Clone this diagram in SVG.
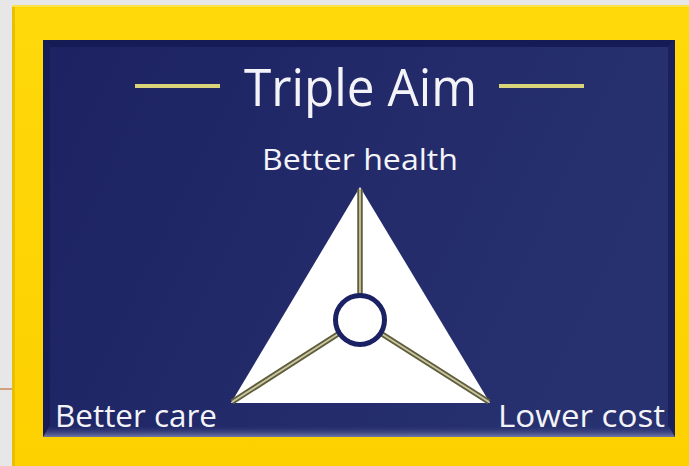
<svg xmlns="http://www.w3.org/2000/svg" width="689" height="466" viewBox="0 0 689 466">
  <defs>
    <linearGradient id="panelGrad" x1="0" y1="0" x2="1" y2="0.3">
      <stop offset="0" stop-color="#1c2262"/>
      <stop offset="0.6" stop-color="#232b6b"/>
      <stop offset="1" stop-color="#283170"/>
    </linearGradient>
    <linearGradient id="bottomBevel" x1="0" y1="0" x2="0" y2="1">
      <stop offset="0" stop-color="#232b6b" stop-opacity="0"/>
      <stop offset="1" stop-color="#6f77a8"/>
    </linearGradient>
    <linearGradient id="yellowGrad" x1="0" y1="0" x2="0" y2="1">
      <stop offset="0" stop-color="#ffd90a"/>
      <stop offset="1" stop-color="#fdd000"/>
    </linearGradient>
    <style>
      .label { font-family: "Open Sans", "Noto Sans", "Liberation Sans", sans-serif; fill: #f4f4f8; }
      .rule { stroke: #d9d37a; stroke-width: 4; stroke-linecap: butt; }
      .spoke-outer { stroke: #5f5d3c; stroke-width: 5.5; stroke-linecap: butt; fill: none; }
      .spoke-inner { stroke: #c9c6a0; stroke-width: 1.8; stroke-linecap: butt; fill: none; }
    </style>
  </defs>

  <!-- page background -->
  <rect x="0" y="0" width="689" height="466" fill="#e7e7e7"/>
  <line x1="0" y1="389" x2="12" y2="389" stroke="#c58a60" stroke-width="1.5"/>

  <!-- yellow frame -->
  <g id="frame">
    <rect x="12" y="5" width="677" height="461" fill="url(#yellowGrad)"/>
    <rect x="12" y="5" width="3" height="461" fill="#e9c000"/>
    <rect x="12" y="5" width="677" height="2" fill="#ffe24a"/>
  </g>

  <!-- navy panel -->
  <g id="panel">
    <rect x="43" y="40" width="632" height="397" fill="url(#panelGrad)"/>
    <polygon points="43,40 675,40 668,47 50,47" fill="#151b55"/>
    <polygon points="43,40 50,47 50,425 43,437" fill="#161c56"/>
    <polygon points="675,40 675,437 668,425 668,47" fill="#1a205c"/>
    <polygon points="43,437 50,425 668,425 675,437" fill="url(#bottomBevel)"/>
  </g>

  <!-- title -->
  <g id="title">
    <line class="rule" x1="135" y1="86" x2="220" y2="86"/>
    <line class="rule" x1="499" y1="86" x2="584" y2="86"/>
    <text class="label" x="244" y="106" font-size="51" textLength="233" lengthAdjust="spacingAndGlyphs">Triple Aim</text>
  </g>

  <!-- triangle -->
  <g id="triangle">
    <polygon points="360,187 231,403 490,403" fill="#ffffff"/>
  </g>

  <!-- connectors -->
  <g id="connectors">
    <line class="spoke-outer" x1="360" y1="189" x2="360" y2="294"/>
    <line class="spoke-inner" x1="360" y1="189" x2="360" y2="294"/>
    <line class="spoke-outer" x1="232" y1="402" x2="338" y2="334"/>
    <line class="spoke-inner" x1="232" y1="402" x2="338" y2="334"/>
    <line class="spoke-outer" x1="489" y1="402" x2="382" y2="334"/>
    <line class="spoke-inner" x1="489" y1="402" x2="382" y2="334"/>
  </g>

  <!-- hub -->
  <g id="hub">
    <circle cx="360" cy="320" r="24.5" fill="#ffffff" stroke="#1b2264" stroke-width="5"/>
  </g>

  <!-- labels -->
  <g id="node-health">
    <text class="label" x="262" y="170" font-size="30" textLength="196" lengthAdjust="spacingAndGlyphs">Better health</text>
  </g>
  <g id="node-care">
    <text class="label" x="55" y="427" font-size="31" textLength="162" lengthAdjust="spacingAndGlyphs">Better care</text>
  </g>
  <g id="node-cost">
    <text class="label" x="498" y="427" font-size="31" textLength="167" lengthAdjust="spacingAndGlyphs">Lower cost</text>
  </g>
</svg>
